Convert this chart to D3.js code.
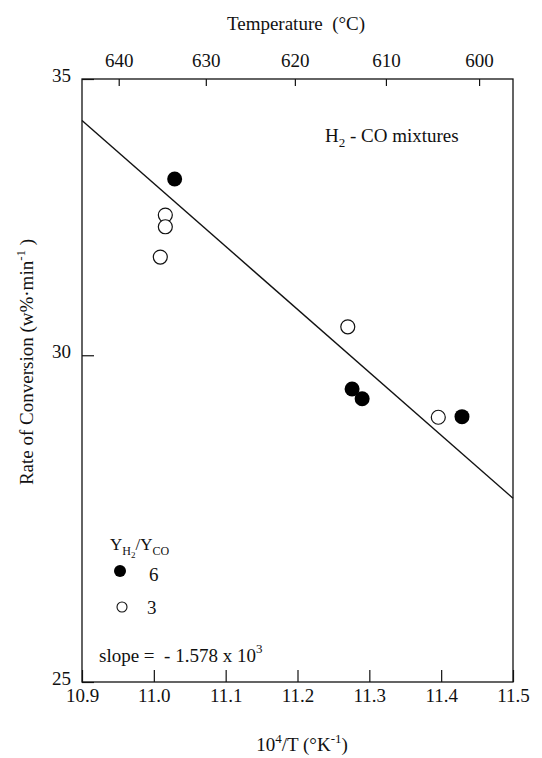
<!DOCTYPE html>
<html><head><meta charset="utf-8">
<script src="https://cdn.jsdelivr.net/npm/d3@7"></script>
<style>body{margin:0;background:#fff}svg text{font-family:"Liberation Serif",serif;fill:#111}</style>
</head><body><svg id="c" width="542" height="758" font-family="Liberation Serif"></svg>
<script>
// data
const xTicks = [10.9, 11.0, 11.1, 11.2, 11.3, 11.4, 11.5];
const yTicks = [25, 30, 35];
const tempTicks = [640, 630, 620, 610, 600];
const ratio6 = [[11.029, 33.10], [11.276, 29.44], [11.290, 29.28], [11.429, 28.99]];
const ratio3 = [[11.016, 32.44], [11.016, 32.23], [11.009, 31.69], [11.270, 30.48], [11.396, 28.98]];
const fitLine = [[10.9, 34.2], [11.5, 27.7]];

const svg = d3.select("#c");
const L = 82, R = 513, T = 79, B = 682;
const x = d3.scaleLinear().domain([10.9, 11.5]).range([L, R]);
const y = d3.scaleLog().domain([25, 35]).range([B, T]);
const fs = 19;
const FF = "Liberation Serif";

// frame
svg.append("rect").attr("x", L).attr("y", T).attr("width", R - L).attr("height", B - T)
  .attr("fill", "none").attr("stroke", "#111").attr("stroke-width", 1.3);

function styleAxis(g) {
  g.select(".domain").remove();
  g.attr("font-family", FF);
  g.selectAll("line").attr("stroke", "#111").attr("stroke-width", 1.2);
  g.selectAll("text").attr("font-size", fs).attr("font-family", FF).attr("fill", "#111");
}

// bottom axis
svg.append("g").attr("transform", `translate(0,${B})`)
  .call(d3.axisBottom(x).tickValues(xTicks).tickFormat(d3.format(".1f")).tickSizeInner(-12).tickSizeOuter(0).tickPadding(7))
  .call(styleAxis);

// left axis
svg.append("g").attr("transform", `translate(${L},0)`)
  .call(d3.axisLeft(y).tickValues(yTicks).tickFormat(d3.format("d")).tickSizeInner(-12).tickSizeOuter(0).tickPadding(11))
  .call(styleAxis)
  .selectAll("text").attr("dy", "0.12em");

// top axis (temperature °C)
const toX = t => 1e4 / (t + 273.15);
svg.append("g").attr("transform", `translate(0,${T})`)
  .call(d3.axisTop(x).tickValues(tempTicks.map(toX)).tickFormat((d, i) => tempTicks[i]).tickSizeInner(-7).tickSizeOuter(0).tickPadding(12))
  .call(styleAxis);

// titles
svg.append("text").attr("x", 296).attr("y", 30).attr("text-anchor", "middle").attr("font-size", fs).attr("font-family", FF)
  .attr("xml:space", "preserve").text("Temperature  (°C)");

const bt = svg.append("text").attr("x", 302).attr("y", 751).attr("text-anchor", "middle").attr("font-size", fs).attr("font-family", FF);
bt.append("tspan").text("10");
bt.append("tspan").attr("dy", -8).attr("font-size", 13).text("4");
bt.append("tspan").attr("dy", 8).text("/T (°K");
bt.append("tspan").attr("dy", -8).attr("font-size", 13).text("-1");
bt.append("tspan").attr("dy", 8).text(")");

const yt = svg.append("text").attr("transform", "translate(33,362) rotate(-90)").attr("text-anchor", "middle").attr("font-size", fs).attr("font-family", FF);
yt.append("tspan").text("Rate of Conversion (w%·min");
yt.append("tspan").attr("dy", -8).attr("font-size", 13).text("-1");
yt.append("tspan").attr("dy", 8).text(" )");

// fit line
svg.append("path").datum(fitLine)
  .attr("d", d3.line().x(d => x(d[0])).y(d => y(d[1])))
  .attr("stroke", "#111").attr("stroke-width", 1.4).attr("fill", "none");

// points
svg.selectAll("circle.r3").data(ratio3).join("circle").attr("class", "r3")
  .attr("cx", d => x(d[0])).attr("cy", d => y(d[1])).attr("r", 7)
  .attr("fill", "#fff").attr("stroke", "#111").attr("stroke-width", 1.2);
svg.selectAll("circle.r6").data(ratio6).join("circle").attr("class", "r6")
  .attr("cx", d => x(d[0])).attr("cy", d => y(d[1])).attr("r", 7.5)
  .attr("fill", "#000");

// annotation
const an = svg.append("text").attr("x", 325).attr("y", 142).attr("font-size", fs).attr("font-family", FF).attr("xml:space", "preserve");
an.append("tspan").text("H");
an.append("tspan").attr("dy", 5).attr("font-size", 13).text("2");
an.append("tspan").attr("dy", -5).text(" - CO mixtures");

// legend
const lg = svg.append("text").attr("x", 110).attr("y", 550).attr("font-size", 17).attr("font-family", FF);
lg.append("tspan").text("Y");
lg.append("tspan").attr("dy", 5).attr("font-size", 12).text("H");
lg.append("tspan").attr("dy", 3).attr("font-size", 9).text("2");
lg.append("tspan").attr("dy", -8).text("/Y");
lg.append("tspan").attr("dy", 5).attr("font-size", 12).text("CO");
svg.append("circle").attr("cx", 120).attr("cy", 571).attr("r", 6).attr("fill", "#000");
svg.append("text").attr("x", 149).attr("y", 581).attr("font-size", fs).attr("font-family", FF).text("6");
svg.append("circle").attr("cx", 122).attr("cy", 607).attr("r", 5).attr("fill", "#fff").attr("stroke", "#111").attr("stroke-width", 1.1);
svg.append("text").attr("x", 147).attr("y", 614).attr("font-size", fs).attr("font-family", FF).text("3");

const sl = svg.append("text").attr("x", 99).attr("y", 662).attr("font-size", fs).attr("font-family", FF).attr("xml:space", "preserve");
sl.append("tspan").text("slope =  - 1.578 x 10");
sl.append("tspan").attr("dy", -9).attr("font-size", 13).text("3");
</script></body></html>
